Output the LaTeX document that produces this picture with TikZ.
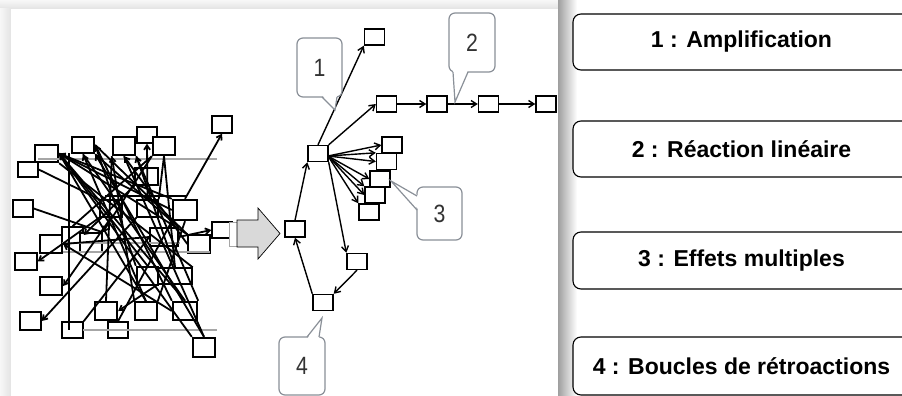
\documentclass[tikz,border=0pt]{standalone}
\usepackage{fontspec}
\setmainfont{Liberation Sans}
\newfontfamily\numfont{Liberation Sans}[FakeStretch=0.85]
\usetikzlibrary{arrows.meta,calc}
\definecolor{cgray}{HTML}{8A9098}
\definecolor{numtext}{HTML}{333333}
\definecolor{arrfill}{HTML}{D9D9D9}
\begin{document}
\begin{tikzpicture}[x=1pt,y=-1pt,
  bx/.style={draw=black,fill=white,line width=1.4pt,inner sep=0pt,minimum width=20pt,minimum height=16pt},
  tbx/.style={bx,line width=2.4pt},
  wire/.style={line width=1.8pt},
  warr/.style={wire,-{Straight Barb[length=4.5pt,width=6pt]}},
  marr/.style={line width=1.4pt,-{Straight Barb[length=5.5pt,width=7pt]}},
  gline/.style={draw=gray!70,line width=1.2pt},
  callbox/.style={draw=cgray,line width=1.2pt,rounded corners=6pt,fill=white,inner sep=0pt,
    font=\numfont\fontsize{25}{27}\selectfont,text=numtext},
  tail/.style={draw=cgray,line width=1.2pt},
  panel/.style={draw=black,line width=1.1pt,rounded corners=8pt,fill=white,
    minimum width=337pt,minimum height=56pt,inner sep=0pt,
    font=\bfseries\fontsize{23}{27}\selectfont}]
\useasboundingbox (0,0) rectangle (902,396);
\clip (0,0) rectangle (902,396);
\fill[white] (0,0) rectangle (902,396);
% left panel shadow and sheet
\shade[top color=gray!6,bottom color=gray!22] (0,0) rectangle (558,9);
\shade[left color=gray!6,right color=gray!22] (0,9) rectangle (11,396);
\fill[white] (11,9) rectangle (558,396);
% right panel shadow
\shade[left color=gray!75,right color=white] (558,0) rectangle (577,396);

% ---------- left cluster ----------
\node[tbx,minimum width=23pt,minimum height=17pt] (L1) at (46.5,153.5) {};
\node[bx,minimum width=20pt,minimum height=15pt] (L2) at (28,169.5) {};
\node[tbx,minimum width=22pt,minimum height=16pt] (L3) at (83,145) {};
\node[tbx,minimum width=22pt,minimum height=18pt] (L4) at (124,146) {};
\node[bx,minimum width=20pt,minimum height=16pt] (L5) at (147,135) {};
\node[tbx,minimum width=22pt,minimum height=18pt] (L6) at (164,146) {};
\node[bx,minimum width=20pt,minimum height=17pt] (L7) at (222,124.5) {};
\node[bx,minimum width=20pt,minimum height=17pt] (L8) at (23,208.5) {};
\node[bx,minimum width=23pt,minimum height=17pt] (L25) at (146.5,176.5) {};
\node[bx,minimum width=21pt,minimum height=17pt] (L26) at (147.5,208.5) {};
\node[bx,minimum width=22pt,minimum height=17pt] (L27) at (111,208.5) {};
\node[tbx,minimum width=24pt,minimum height=20pt] (L9) at (185,210) {};
\node[bx,minimum width=20pt,minimum height=16pt] (L10) at (222,230) {};
\node[tbx,minimum width=22pt,minimum height=18pt] (L11) at (51,244) {};
\node[bx,minimum width=22pt,minimum height=17pt] (L12) at (26,261.5) {};
\node[bx,minimum width=21pt,minimum height=16pt] (L13) at (72.5,235) {};
\node[bx,minimum width=22pt,minimum height=19pt] (L14) at (91,242.5) {};
\node[bx,minimum width=28pt,minimum height=18pt] (L28) at (164,237) {};
\node[bx,minimum width=22pt,minimum height=18pt] (L15) at (199,244) {};
\node[tbx,minimum width=21pt,minimum height=18pt] (L16a) at (147.5,276) {};
\node[bx,minimum width=34pt,minimum height=16pt] (L16b) at (175,276) {};
\node[tbx,minimum width=22pt,minimum height=18pt] (L17) at (51,286) {};
\node[bx,minimum width=21pt,minimum height=18pt] (L18) at (30.5,321) {};
\node[tbx,minimum width=22pt,minimum height=18pt] (L19) at (106,311) {};
\node[bx,minimum width=22pt,minimum height=18pt] (L20) at (146,311) {};
\node[tbx,minimum width=24pt,minimum height=18pt] (L21) at (185,311) {};
\node[bx,minimum width=21pt,minimum height=16pt] (L22) at (72.5,330) {};
\node[bx,minimum width=20pt,minimum height=16pt] (L23) at (118,330) {};
\node[tbx,minimum width=22pt,minimum height=19pt] (L24) at (204,347.5) {};
\node[draw=gray!70,fill=white,line width=1pt,inner sep=0pt,minimum width=10pt,minimum height=24pt] (L30) at (234,234) {};

% grey horizontal lines
\draw[gline] (38,159) -- (217,159);
\draw[gline] (83,330) -- (217,330);
\draw[gline] (62,243) -- (180,243);
\draw[gline] (63,252) -- (210,252);
\draw[line width=1.8pt] (105,196) -- (187,196);
\coordinate (vt) at (69,153);
\coordinate (vb) at (69,330);
\draw[wire] (vt) -- (vb);

% arrows of the cluster
\draw[warr] (L9.north) -- (L7.south);
\draw[warr] (L9.west) -- (L1.east);
\draw[warr] (L15.north west) -- (L1.east);
\draw[warr] (L21.north) -- (L1.east);
\draw[warr] (L16a.north) -- (L1.east);
\draw[warr] (L24.north) -- (L3.south east);
\draw[warr] (L21.north west) -- (L3.east);
\draw[warr] (L20.north) -- (L3.south);
\draw[warr] (L15.west) -- (L4.south);
\draw[warr] (L16b.north) -- (L4.south east);
\draw[warr] (L26.north) -- (L5.south);
\draw[wire] (L6.south) -- (L26.north east);
\draw[warr] (L28.east) -- (L10.west);
\draw[warr] (L27.south west) -- (L12.east);
\draw[warr] (L27.south) -- (L17.east);
\draw[warr] (L26.south west) -- (L18.east);
\draw[warr] (L16b.south west) -- (L19.east);
\draw[wire] (L2.east) -- (L27.north west);
\draw[wire] (L8.east) -- (L14.north east);
\draw[wire] (L22.north east) -- (L28.west);
\draw[wire] (L1.east) -- (L24.north west);
\draw[wire] (L3.south) -- (L21.north);
\draw[wire] (L4.south west) -- (L19.north);
\draw[wire] (L4.south) -- (L24.north);
\draw[wire] (L1.south east) -- (L16b.north east);
\draw[wire] (L11.east) -- (L28.west);
\draw[wire] (L13.north) -- (L6.south west);
\draw[wire] (L23.north) -- (L9.south west);
\draw[wire] (L20.north east) -- (L9.south);
\draw[warr] (L6.south west) -- (L14.north east);
\draw[wire] (L3.east) -- (L15.north west);
\draw[wire] (L1.east) -- (L9.north west);
\draw[wire] (L3.south east) -- (L28.north east);
\draw[wire] (L4.south east) -- (L21.north east);
\draw[warr] (L20.north west) -- (L4.south west);
\draw[wire] (L6.south) -- (L16b.north);
\draw[warr] (L21.west) -- (L11.east);
\draw[warr] (L25.south west) -- (L13.east);
\draw[wire] (L1.east) -- (L20.north);
\draw[wire] (L3.east) -- (L16a.north west);

% ---------- big arrow ----------
\draw[fill=arrfill,line width=0.7pt] (237,220) -- (258,220) -- (258,208) -- (280,233.5)
  -- (258,259) -- (258,247) -- (237,247) -- cycle;

% ---------- middle diagram ----------
\node[bx] (n0) at (295,229) {};
\node[bx] (hub) at (318,153.5) {};
\node[bx] (top) at (374.5,37) {};
\node[bx] (nA) at (386.5,104) {};
\node[bx] (nB) at (437,104) {};
\node[bx] (nC) at (488.5,104) {};
\node[bx] (nD) at (546,104) {};
\node[bx] (f1) at (392,145) {};
\node[bx] (f2) at (386.5,161.5) {};
\node[bx] (f3) at (380,179) {};
\node[bx] (f4) at (375,195) {};
\node[bx] (f5) at (369,212) {};
\node[bx] (rb) at (357,261.5) {};
\node[bx] (bt) at (323,302.5) {};

\draw[marr] (n0.north) -- (hub.south west);
\draw[marr] (hub.north) -- (top.south west);
\draw[marr] (hub.north east) -- (nA.west);
\draw[marr] (nA.east) -- (nB.west);
\draw[marr] (nB.east) -- (nC.west);
\draw[marr] (nC.east) -- (nD.west);
\coordinate (hr) at (328,156);
\draw[marr] (hr) -- (f1.west);
\draw[marr] (hr) -- (f2.north west);
\draw[marr] (hr) -- (f2.west);
\draw[marr] (hr) -- (f3.west);
\draw[marr] (hr) -- (f4.north west);
\draw[marr] (hr) -- (f4.west);
\draw[marr] (hr) -- (f5.north west);
\draw[marr] (hub.south east) -- (rb.north west);
\draw[marr] (rb.south) -- (bt.north east);
\draw[marr] (bt.north west) -- (n0.south);

% ---------- callouts ----------
\node[callbox,minimum width=45pt,minimum height=59pt] (c1) at (319.5,67.5) {1};
\coordinate (t1) at (335,110);
\fill[white] (322,95) -- (t1) -- (337,95) -- cycle;
\draw[tail] (322,97) -- (t1) -- (337,97);

\node[callbox,minimum width=46pt,minimum height=59pt] (c2) at (472,42.5) {2};
\coordinate (t2) at (455,102);
\fill[white] (453,70) -- (t2) -- (468,70) -- cycle;
\draw[tail] (453,72) -- (t2) -- (468,72);

\node[callbox,minimum width=45pt,minimum height=53pt] (c3) at (439.5,213.5) {3};
\coordinate (t3) at (391,181);
\fill[white] (419,196) -- (t3) -- (419,210) -- cycle;
\draw[tail] (417,196) -- (t3) -- (417,210);

\node[callbox,minimum width=46pt,minimum height=58pt] (c4) at (302,366) {4};
\coordinate (t4) at (322,318);
\fill[white] (307,339) -- (t4) -- (319,339) -- cycle;
\draw[tail] (307,337) -- (t4) -- (319,337);

% ---------- right panel ----------
\node[panel] (p1) at (741.5,42) {1 : Amplification};
\node[panel] (p2) at (741.5,149) {2 : Réaction linéaire};
\node[panel,minimum height=57pt] (p3) at (741.5,260.5) {3 : Effets multiples};
\node[panel,minimum height=58pt] (p4) at (741.5,366) {4 : Boucles de rétroactions};
\end{tikzpicture}
\end{document}
